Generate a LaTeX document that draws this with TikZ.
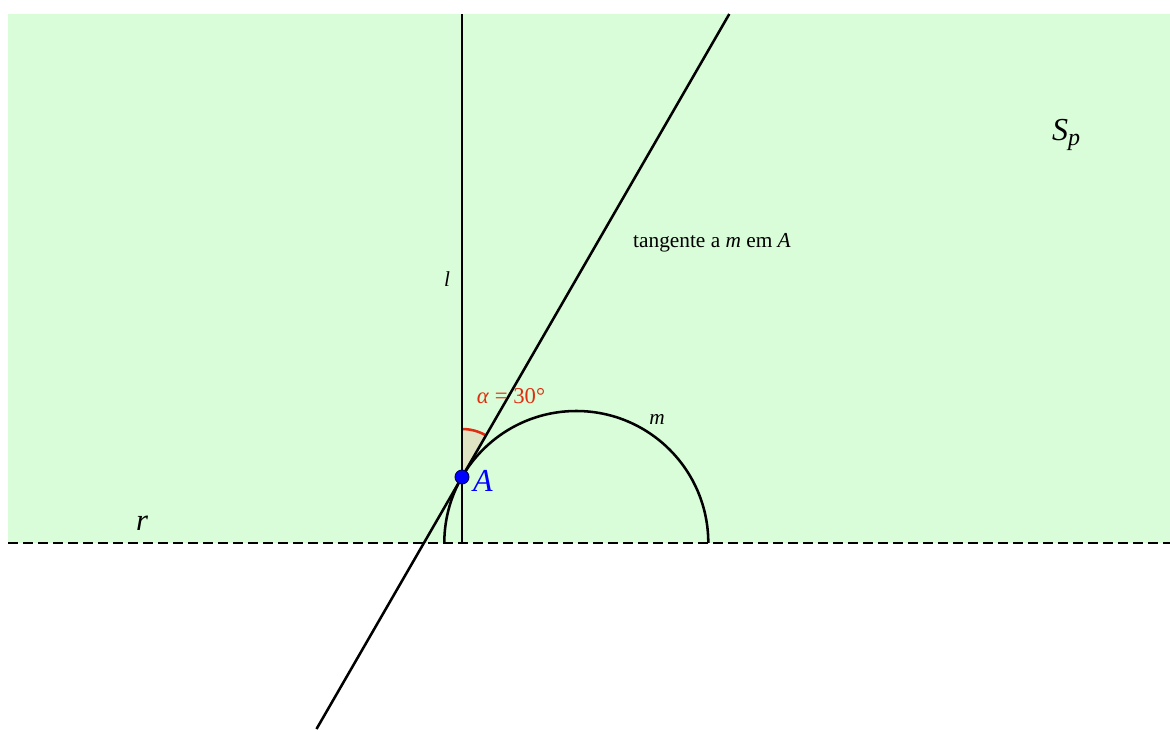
\documentclass[tikz,border=0pt]{standalone}
\usepackage{fontspec}
\setmainfont{Liberation Serif}
\definecolor{plane}{RGB}{217,252,217}
\definecolor{wedge}{RGB}{222,228,196}
\definecolor{anglered}{RGB}{225,45,15}
\definecolor{ptblue}{RGB}{0,0,255}
\begin{document}
\begin{tikzpicture}[x=0.75pt,y=0.75pt,
  thickline/.style={line width=1.9pt,black},
  lbl/.style={inner sep=0pt,font=\fontsize{16}{18}\selectfont}]
\useasboundingbox (0,0) rectangle (1170,729);
% half plane
\fill[plane] (8,186) rectangle (1170,715);
% named points
\coordinate (rL) at (8,186);
\coordinate (rR) at (1170,186);
\coordinate (lB) at (462,186);
\coordinate (lT) at (462,715);
\coordinate (A) at (462,252);
\coordinate (C) at (576.3,186);
\coordinate (mL) at (444.3,186);
\coordinate (tT) at (729.3,715);
\coordinate (tB) at (316.5,0);
% angle wedge
\fill[wedge] (A) -- ++(60:48) arc[start angle=60,end angle=90,radius=48] -- cycle;
\draw[anglered,line width=1.9pt] ([shift={(60:48)}]A) arc[start angle=60,end angle=90,radius=48];
% lines
\draw[thickline,dash pattern=on 7.5pt off 3.75pt] (rL) -- (rR);
\draw[thickline] (lB) -- (lT);
\draw[thickline] (tB) -- (tT);
\draw[thickline] (mL) arc[start angle=180,end angle=0,radius=132];
% point A
\fill[ptblue,draw=black!70!blue,line width=0.7pt] (A) circle (7);
% labels
\node[lbl,font=\fontsize{24}{26}\selectfont\itshape] (Sp) at (1066,594) {S\raisebox{-0.35ex}{\fontsize{18}{20}\selectfont p}};
\node[lbl,font=\fontsize{23}{25}\selectfont\itshape] (rlab) at (142,206) {r};
\node[lbl,font=\fontsize{16}{18}\selectfont\itshape] (llab) at (447,450) {l};
\node[lbl,font=\fontsize{16}{18}\selectfont\itshape] (mlab) at (657,310) {m};
\node[lbl] (tlab) at (712,486) {tangente a \textit{m} em \textit{A}};
\node[lbl,font=\fontsize{24}{26}\selectfont\itshape,text=ptblue] (Alab) at (483,248) {A};
\node[lbl,font=\fontsize{17}{19}\selectfont,text=anglered] (alab) at (511,333) {\textit{α} = 30°};
\end{tikzpicture}
\end{document}
